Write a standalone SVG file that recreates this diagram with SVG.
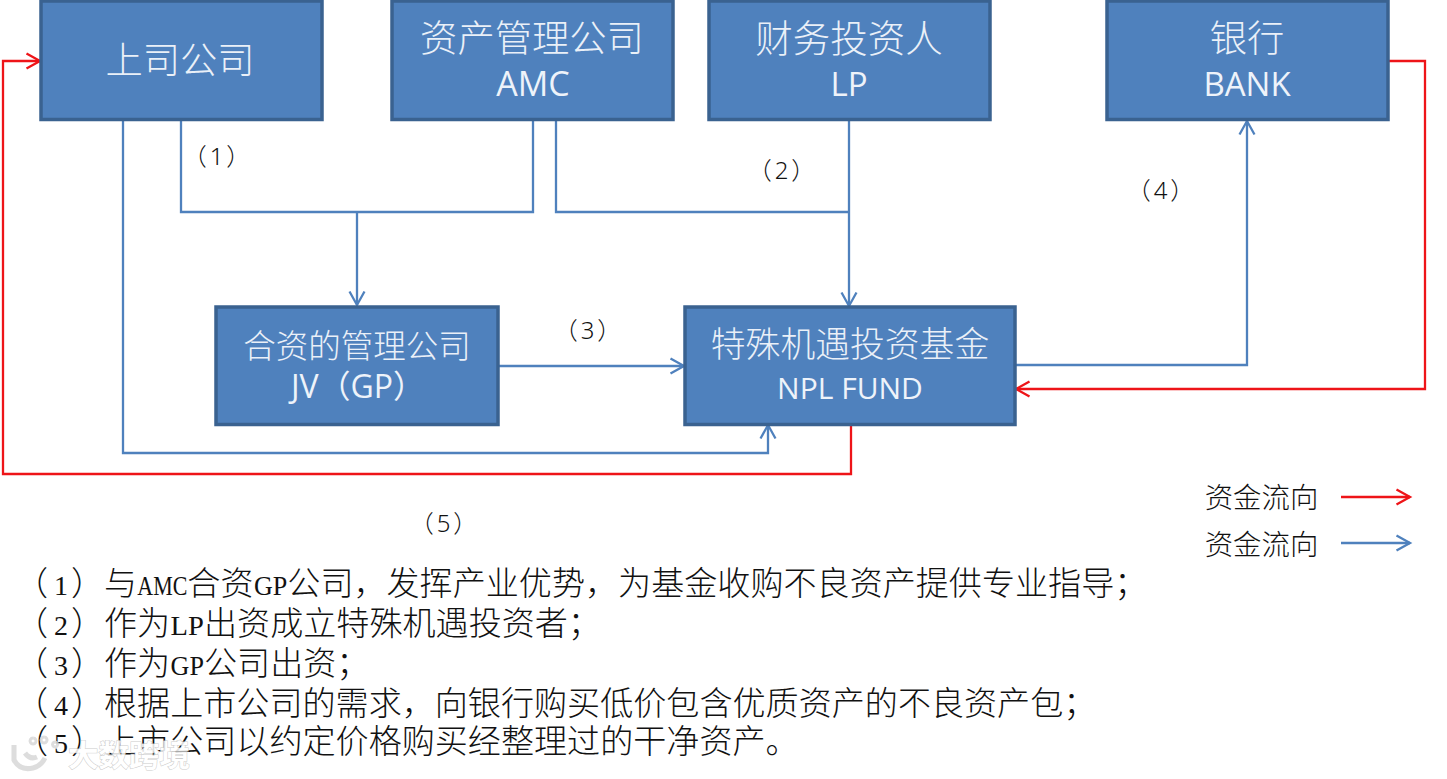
<svg xmlns="http://www.w3.org/2000/svg" width="1447" height="779" viewBox="0 0 1447 779">
<style>
text{text-spacing-trim:space-all}
.box{fill:#4f81bd;stroke:#3a6290;stroke-width:3.5}
.t{fill:#eaf0f8;font-family:"Noto Sans CJK SC","Noto Sans",sans-serif;text-anchor:middle;font-weight:300}
.l{fill:#eef3fa;font-family:"Open Sans","Noto Sans CJK SC",sans-serif;text-anchor:middle}
.n{fill:#111;font-family:"Noto Sans CJK SC",sans-serif;font-size:33.100px;font-weight:300}
.s{font-family:"Liberation Serif",serif;font-size:28px}
.m{fill:#111;font-family:"Noto Sans","Noto Sans CJK SC",sans-serif;font-size:24px;text-anchor:middle;font-weight:300;letter-spacing:3px}
.c{fill:none;stroke-width:2.300;stroke-linejoin:miter}
.b{stroke:#4f81bd}.r{stroke:#ee1418}
.wm{fill:#fff;stroke:#c4c4c4;stroke-width:1;font-family:"Noto Sans CJK SC",sans-serif;font-size:30px;font-weight:700;paint-order:stroke}
</style>
<defs>
<marker id="ab" markerUnits="userSpaceOnUse" markerWidth="18" markerHeight="20" refX="15" refY="10" orient="auto"><path d="M1.500 2.500L15 10L1.500 17.500" fill="none" stroke="#4f81bd" stroke-width="2.300"/></marker>
<marker id="ar" markerUnits="userSpaceOnUse" markerWidth="18" markerHeight="20" refX="15" refY="10" orient="auto"><path d="M1.500 2.500L15 10L1.500 17.500" fill="none" stroke="#ee1418" stroke-width="2.300"/></marker>
</defs>
<g id="connectors">
<path class="c b" d="M181 120V212H533V120"/>
<path class="c b" marker-end="url(#ab)" d="M357 212V305"/>
<path class="c b" d="M556 120V212H849"/>
<path class="c b" marker-end="url(#ab)" d="M849 120V306"/>
<path class="c b" marker-end="url(#ab)" d="M499 366H684"/>
<path class="c b" marker-end="url(#ab)" d="M1016 365H1247V121"/>
<path class="c b" marker-end="url(#ab)" d="M123 120V453H768V425"/>
<path class="c r" marker-end="url(#ar)" d="M851 425V474H3V61H40"/>
<path class="c r" marker-end="url(#ar)" d="M1389 61H1425V389H1016"/>
<path class="c r" marker-end="url(#ar)" d="M1341 497H1410"/>
<path class="c b" marker-end="url(#ab)" d="M1341 543H1410"/>
</g>
<g id="node-listed"><rect class="box" x="41" y="1" width="281" height="118.500"/><text class="t" x="180" y="74" font-size="37.300">上司公司</text></g>
<g id="node-amc"><rect class="box" x="392" y="1" width="281" height="118.500"/><text class="t" x="532" y="52" font-size="37.300">资产管理公司</text><text class="l" x="533" y="96" font-size="34">AMC</text></g>
<g id="node-lp"><rect class="box" x="709" y="1" width="281" height="118.500"/><text class="t" x="849" y="52" font-size="37.500">财务投资人</text><text class="l" x="849" y="96" font-size="33">LP</text></g>
<g id="node-bank"><rect class="box" x="1107" y="1" width="281" height="118.500"/><text class="t" x="1247" y="52" font-size="37.300">银行</text><text class="l" x="1247" y="96" font-size="33">BANK</text></g>
<g id="node-jv"><rect class="box" x="216" y="307" width="282" height="117.500"/><text class="t" x="357" y="358" font-size="32.500">合资的管理公司</text><text class="l" x="358" y="398" font-size="32">JV（GP）</text></g>
<g id="node-fund"><rect class="box" x="685" y="307" width="330" height="117.500"/><text class="t" x="850" y="357" font-size="34.800">特殊机遇投资基金</text><text class="l" x="850" y="399" font-size="30">NPL FUND</text></g>
<g id="labels">
<text class="m" x="218" y="165">（1）</text>
<text class="m" x="783" y="179">（2）</text>
<text class="m" x="589" y="339">（3）</text>
<text class="m" x="1162" y="199">（4）</text>
<text class="m" x="445" y="532">（5）</text>
<text class="t" style="fill:#111" x="1261.500" y="508" font-size="28.400">资金流向</text>
<text class="t" style="fill:#111" x="1261.500" y="555" font-size="28.400">资金流向</text>
</g>
<g id="notes">
<text class="n" y="595"><tspan x="15">（</tspan><tspan x="54" class="s">1</tspan><tspan x="71">）</tspan><tspan x="104">与</tspan><tspan class="s" x="137.300" textLength="50" lengthAdjust="spacingAndGlyphs">AMC</tspan><tspan x="187.300">合资</tspan><tspan class="s" x="254" textLength="33.300" lengthAdjust="spacingAndGlyphs">GP</tspan><tspan x="287.300">公司，发挥产业优势，为基金收购不良资产提供专业指导；</tspan></text>
<text class="n" y="635"><tspan x="15">（</tspan><tspan x="54" class="s">2</tspan><tspan x="71">）</tspan><tspan x="104">作为</tspan><tspan class="s" x="170.600" textLength="33.300" lengthAdjust="spacingAndGlyphs">LP</tspan><tspan x="204">出资成立特殊机遇投资者；</tspan></text>
<text class="n" y="675"><tspan x="15">（</tspan><tspan x="54" class="s">3</tspan><tspan x="71">）</tspan><tspan x="104">作为</tspan><tspan class="s" x="170.600" textLength="33.300" lengthAdjust="spacingAndGlyphs">GP</tspan><tspan x="204">公司出资；</tspan></text>
<text class="n" y="715"><tspan x="15">（</tspan><tspan x="54" class="s">4</tspan><tspan x="71">）</tspan><tspan x="104">根据上市公司的需求，向银行购买低价包含优质资产的不良资产包；</tspan></text>
<text class="n" y="753"><tspan x="15">（</tspan><tspan x="54" class="s">5</tspan><tspan x="71">）</tspan><tspan x="104">上市公司以约定价格购买经整理过的干净资产。</tspan></text>
</g>
<g id="watermark" opacity="0.85">
<path d="M14 745V760Q20 771 33 768Q41 766 45 758M25 753Q30 760 37 757" fill="none" stroke="#d8d8d8" stroke-width="5"/>
<path d="M33 738a3 3 0 1 0 .1 0M44 737a3 3 0 1 0 .1 0M55 742a2.500 2.500 0 1 0 .1 0" fill="none" stroke="#d8d8d8" stroke-width="3"/>
<text class="wm" x="68" y="766" textLength="122" lengthAdjust="spacingAndGlyphs">大数跨境</text>
</g>
</svg>
